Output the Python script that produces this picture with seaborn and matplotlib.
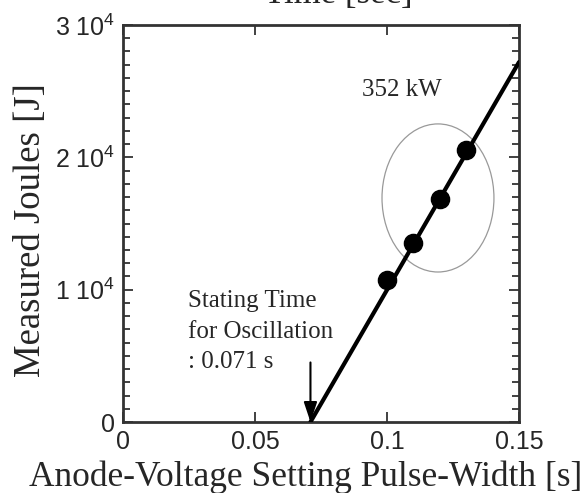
import matplotlib
matplotlib.use("Agg")
import matplotlib.pyplot as plt
import seaborn as sns
import pandas as pd
from matplotlib.patches import Ellipse
from matplotlib.ticker import MultipleLocator

# Data
pulse_width = [0.10, 0.11, 0.12, 0.13]
joules = [10730, 13530, 16860, 20560]
fit_x = [0.071, 0.15]
fit_y = [0, 27200]
start_time = 0.071
power_label = "352 kW"
x_ticks = [0, 0.05, 0.1, 0.15]
x_ticklabels = ["0", "0.05", "0.1", "0.15"]
y_ticks = [0, 10000, 20000, 30000]
y_ticklabels = ["0", "1 10$^4$", "2 10$^4$", "3 10$^4$"]

sns.set_style("ticks")
plt.rcParams['font.family'] = ['Liberation Sans', 'DejaVu Sans']
plt.rcParams['mathtext.fontset'] = 'custom'
plt.rcParams['mathtext.rm'] = 'Liberation Sans'

fig = plt.figure(figsize=(5.88, 4.93), dpi=100)
ax = fig.add_axes([0.2092, 0.1440, 0.8827 - 0.2092, 0.9493 - 0.1440])

pts = pd.DataFrame({"x": pulse_width, "y": joules})
fit = pd.DataFrame({"x": fit_x, "y": fit_y})
sns.lineplot(data=fit, x="x", y="y", ax=ax, color="black", linewidth=3, zorder=3)
sns.scatterplot(data=pts, x="x", y="y", ax=ax, color="black", s=170, edgecolor="black", zorder=4)

ell = Ellipse((0.1193, 16930), width=0.0424, height=11190, fill=False,
              edgecolor="#999999", linewidth=0.9, zorder=2)
ax.add_patch(ell)

ax.set_xlim(0, 0.15)
ax.set_ylim(0, 30000)
ax.set_xticks(x_ticks)
ax.set_xticklabels(x_ticklabels)
ax.set_yticks(y_ticks)
ax.set_yticklabels(y_ticklabels)
ax.yaxis.set_minor_locator(MultipleLocator(1000))

ax.tick_params(axis="both", which="both", direction="in", top=True, right=True,
               labelsize=18, color="#333333", width=1.3)
ax.tick_params(which="major", length=7)
ax.tick_params(which="minor", length=5)
ax.tick_params(axis="x", which="minor", bottom=False, top=False)
ax.tick_params(axis="x", pad=6)
ax.tick_params(axis="y", pad=6)
for sp in ax.spines.values():
    sp.set_linewidth(2)
    sp.set_color("#333333")

serif = ['Liberation Serif', 'DejaVu Serif']
ax.set_xlabel("Anode-Voltage Setting Pulse-Width [s]", family=serif, fontsize=25.5)
ax.xaxis.set_label_coords(0.462, -0.0957)
ax.set_ylabel("Measured Joules [J]", family=serif, fontsize=26.5)
ax.yaxis.set_label_coords(-0.19, 0.484)

ax.text(0.0905, 25100, power_label, family=serif, fontsize=18, va="center", ha="left")
ax.text(0.0246, 9950, "Stating Time\nfor Oscillation\n: 0.071 s", family=serif,
        fontsize=18, va="top", ha="left", linespacing=1.5)
ax.annotate("", xy=(start_time, 0), xytext=(start_time, 4500),
            arrowprops=dict(arrowstyle="-|>,head_width=0.4,head_length=1.2",
                            color="black", lw=1.5, shrinkA=0, shrinkB=0))

fig.text(0.575, 1 - 2.5 / 493, "Time [sec]", family=serif, fontsize=25, ha="center", va="baseline")

fig.savefig("out.png", dpi=100)
